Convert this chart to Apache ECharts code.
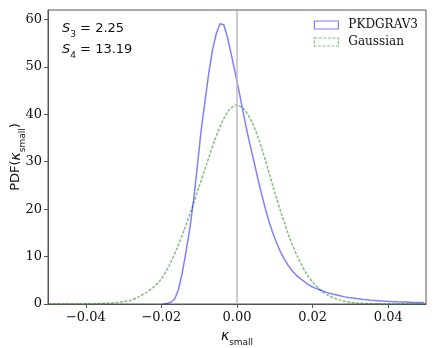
<!DOCTYPE html>
<html>
<head>
<meta charset="utf-8">
<script src="https://cdn.jsdelivr.net/npm/echarts@6/dist/echarts.min.js"></script>
<style>
html, body { margin: 0; padding: 0; background: #fff; }
#chart { width: 436px; height: 348px; }
</style>
</head>
<body>
<div id="chart"></div>
<script>
// PKDGRAV3 histogram: bin centres start at -0.0185, width 0.001
var blueStart = -0.0185;
var blueStep = 0.001;
var blueVals = [0.1, 0.4, 1.0, 3.0, 6.5, 11.0, 15.8, 21.8, 29.0, 36.5, 42.5, 48.5, 53.5, 57.0, 59.1, 58.9,
    56.2, 52.6, 48.8, 45.0, 41.0, 37.0, 33.4, 30.0, 26.5, 23.2, 20.1, 17.3, 14.9, 12.8, 11.0, 9.5,
    8.2, 7.1, 6.2, 5.5, 4.9, 4.3, 3.8, 3.4, 3.1, 2.8, 2.5, 2.25, 2.05, 1.9, 1.7, 1.5, 1.35, 1.25,
    1.15, 1.05, 0.95, 0.88, 0.8, 0.74, 0.68, 0.62, 0.58, 0.54, 0.5, 0.46, 0.43, 0.4, 0.37, 0.34,
    0.32, 0.3, 0.28];

// Gaussian: from -0.05 to 0.05 every 0.002
var gaussStart = -0.05;
var gaussStep = 0.002;
var gaussVals = [0, 0, 0, 0.01, 0.02, 0.03, 0.06, 0.1, 0.18, 0.3, 0.5, 0.8, 1.5, 2.4, 3.6, 5.3,
    8.0, 11.5, 15.6, 20.0, 24.8, 29.6, 34.3, 38.3, 41.0, 42.0, 41.0, 38.3, 34.2, 29.0, 23.5, 18.4,
    13.8, 10.0, 6.9, 4.6, 3.0, 1.9, 1.15, 0.65, 0.35, 0.18, 0.1, 0.05, 0.02, 0.01, 0, 0, 0, 0, 0];

var xTicks = [-0.04, -0.02, 0, 0.02, 0.04];
var yTicks = [0, 10, 20, 30, 40, 50, 60];
var seriesNames = ['PKDGRAV3', 'Gaussian'];

var blueData = [[blueStart - blueStep, 0]];
for (var i = 0; i < blueVals.length; i++) {
    blueData.push([+(blueStart + i * blueStep).toFixed(5), blueVals[i]]);
}
var gaussData = [];
for (var j = 0; j < gaussVals.length; j++) {
    gaussData.push([+(gaussStart + j * gaussStep).toFixed(4), gaussVals[j]]);
}

var blue = 'rgba(0,0,255,0.5)';
var green = 'rgba(0,128,0,0.5)';
var frame = '#555';
var serif = 'DejaVu Serif';
var sans = 'DejaVu Sans';

var subRich = {
    k: { fontFamily: sans, fontSize: 14, fontStyle: 'italic', lineHeight: 16, color: '#111' },
    sub: { fontFamily: sans, fontSize: 9, verticalAlign: 'bottom', lineHeight: 9, color: '#111', padding: [0, 0, -3, 0] }
};

var myChart = echarts.init(document.getElementById('chart'));

var option = {
    animation: false,
    grid: {
        left: 48, right: 10, top: 10, bottom: 44,
        outerBoundsMode: 'none',
        containLabel: false,
        show: true, borderColor: frame, borderWidth: 1
    },
    legend: {
        orient: 'vertical',
        right: 13, top: 14,
        itemWidth: 24, itemHeight: 8, itemGap: 5,
        textStyle: { fontFamily: serif, fontSize: 12, color: '#111', padding: [0, 0, 0, 5] },
        data: [
            { name: seriesNames[0], icon: 'rect', itemStyle: { color: 'transparent', borderColor: blue, borderWidth: 1.2 } },
            { name: seriesNames[1], icon: 'rect', itemStyle: { color: 'transparent', borderColor: green, borderWidth: 1.2, borderType: [3, 1.5] } }
        ]
    },
    xAxis: {
        type: 'value',
        min: -0.05, max: 0.05,
        name: '{k|κ}{sub|small}',
        nameLocation: 'middle',
        nameGap: 24,
        nameMoveOverlap: false,
        nameTextStyle: { fontFamily: sans, fontSize: 13, color: '#111', rich: subRich },
        splitLine: { show: false },
        axisLine: { onZero: false, lineStyle: { color: frame } },
        axisTick: { show: true, length: 4, customValues: xTicks, lineStyle: { color: frame } },
        axisLabel: {
            customValues: xTicks,
            margin: 7,
            fontFamily: serif, fontSize: 13, color: '#111',
            formatter: function (v) {
                return (v < 0 ? '\u2212' : '') + Math.abs(v).toFixed(2);
            }
        }
    },
    yAxis: {
        type: 'value',
        min: 0, max: 62,
        interval: 10,
        name: 'PDF({k|κ}{sub|small})',
        nameLocation: 'middle',
        nameRotate: 90,
        nameGap: 24,
        nameMoveOverlap: false,
        nameTextStyle: { fontFamily: sans, fontSize: 13, color: '#111', rich: subRich },
        splitLine: { show: false },
        axisLine: { show: true, onZero: false, lineStyle: { color: frame } },
        axisTick: { show: true, length: 4, customValues: yTicks, lineStyle: { color: frame } },
        axisLabel: {
            customValues: yTicks,
            margin: 6,
            fontFamily: serif, fontSize: 13, color: '#111'
        }
    },
    graphic: [{
        type: 'text', left: 62, top: 22,
        style: {
            text: '{i|S}{sub|3}{t| = 2.25}',
            rich: {
                i: { fontFamily: sans, fontSize: 13, fontStyle: 'italic', lineHeight: 16, fill: '#111' },
                sub: { fontFamily: sans, fontSize: 9, verticalAlign: 'bottom', lineHeight: 9, fill: '#111', padding: [0, 0, -3, 0] },
                t: { fontFamily: sans, fontSize: 13, lineHeight: 16, fill: '#111' }
            }
        }
    }, {
        type: 'text', left: 62, top: 43,
        style: {
            text: '{i|S}{sub|4}{t| = 13.19}',
            rich: {
                i: { fontFamily: sans, fontSize: 13, fontStyle: 'italic', lineHeight: 16, fill: '#111' },
                sub: { fontFamily: sans, fontSize: 9, verticalAlign: 'bottom', lineHeight: 9, fill: '#111', padding: [0, 0, -3, 0] },
                t: { fontFamily: sans, fontSize: 13, lineHeight: 16, fill: '#111' }
            }
        }
    }],
    series: [{
        name: seriesNames[0],
        type: 'line',
        data: blueData,
        showSymbol: false,
        lineStyle: { color: blue, width: 1.5 },
        itemStyle: { color: blue },
        z: 3,
        markLine: {
            silent: true,
            symbol: 'none',
            label: { show: false },
            lineStyle: { color: '#bbb', width: 1.5, type: 'solid' },
            data: [{ xAxis: 0 }]
        }
    }, {
        name: seriesNames[1],
        type: 'line',
        data: gaussData,
        showSymbol: false,
        smooth: 0.2,
        lineStyle: { color: green, width: 1.5, type: [3, 1.5] },
        itemStyle: { color: green },
        z: 2
    }]
};

myChart.setOption(option);

window.addEventListener('resize', function () {
    myChart.resize();
});
</script>
</body>
</html>
